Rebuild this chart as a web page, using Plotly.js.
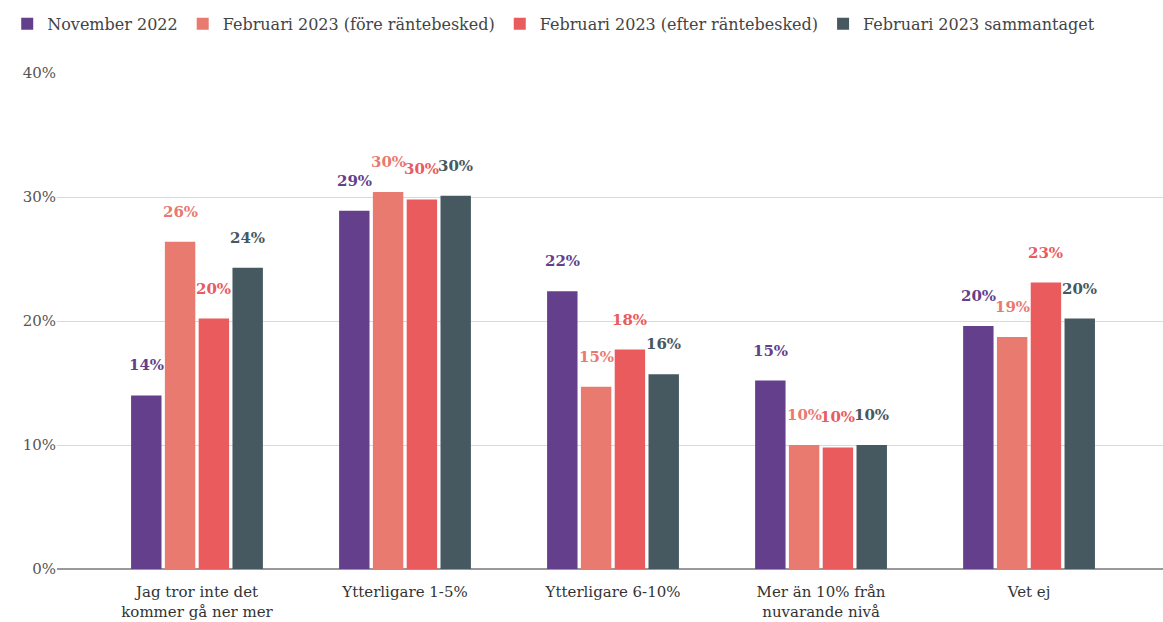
<!DOCTYPE html>
<html>
<head>
<meta charset="utf-8">
<script src="https://cdn.plot.ly/plotly-3.0.1.min.js"></script>
<style>html,body{margin:0;padding:0;background:#fff;}#chart{width:1163px;height:622px;}</style>
</head>
<body>
<div id="chart"></div>
<script>
const categories = ["Jag tror inte det<br>kommer gå ner mer", "Ytterligare 1-5%", "Ytterligare 6-10%", "Mer än 10% från<br>nuvarande nivå", "Vet ej"];
const seriesNames = ["November 2022", "Februari 2023 (före räntebesked)", "Februari 2023 (efter räntebesked)", "Februari 2023 sammantaget"];
const nov2022 = [14.0, 28.9, 22.4, 15.2, 19.6];
const febFore = [26.4, 30.4, 14.7, 10.0, 18.7];
const febEfter = [20.2, 29.8, 17.7, 9.8, 23.1];
const febSamman = [24.3, 30.1, 15.7, 10.0, 20.2];
const colors = ["#643f8b", "#e87a70", "#e95b5d", "#465960"];
const yTicks = [0, 10, 20, 30, 40];

const FONT = "DejaVu Serif, Liberation Serif, serif";
const allSeries = [nov2022, febFore, febEfter, febSamman];
const bargap = 0.35;

const traces = allSeries.map((vals, i) => ({
  type: "bar",
  name: seriesNames[i],
  x: categories,
  y: vals,
  marker: {color: colors[i]},
  hoverinfo: "skip"
}));

const annotations = [];
const slot = (1 - bargap) / allSeries.length;
allSeries.forEach((vals, i) => {
  vals.forEach((v, j) => {
    annotations.push({
      x: j + (i - (allSeries.length - 1) / 2) * slot,
      y: v,
      xref: "x", yref: "y",
      text: Math.round(v) + "%",
      showarrow: false,
      yshift: 30,
      font: {family: FONT, size: 15, color: colors[i], weight: "bold"}
    });
  });
});

const layout = {
  width: 1163, height: 622,
  margin: {l: 57, r: 0, t: 73, b: 53},
  paper_bgcolor: "#fff", plot_bgcolor: "#fff",
  barmode: "group",
  bargap: bargap,
  bargroupgap: 0.1,
  font: {family: FONT, size: 16, color: "#444"},
  showlegend: true,
  legend: {orientation: "h", x: -0.045, xanchor: "left", y: 1.099, yanchor: "middle",
           font: {family: FONT, size: 16, color: "#444"}},
  xaxis: {
    type: "category",
    range: [-0.673, 4.644],
    showgrid: false, zeroline: false, showline: false,
    ticks: "",
    ticklabelstandoff: 12,
    tickfont: {family: FONT, size: 15, color: "#333"}
  },
  yaxis: {
    range: [0, 40],
    tickvals: yTicks,
    ticktext: yTicks.map(t => t + "%"),
    showgrid: true, gridcolor: "#d9d9d9", gridwidth: 1,
    zeroline: true, zerolinecolor: "#999", zerolinewidth: 2,
    showline: false, ticks: "",
    tickfont: {family: FONT, size: 15, color: "#555"}
  },
  annotations: annotations
};

Plotly.newPlot("chart", traces, layout, {displayModeBar: false, staticPlot: true});
</script>
</body>
</html>
